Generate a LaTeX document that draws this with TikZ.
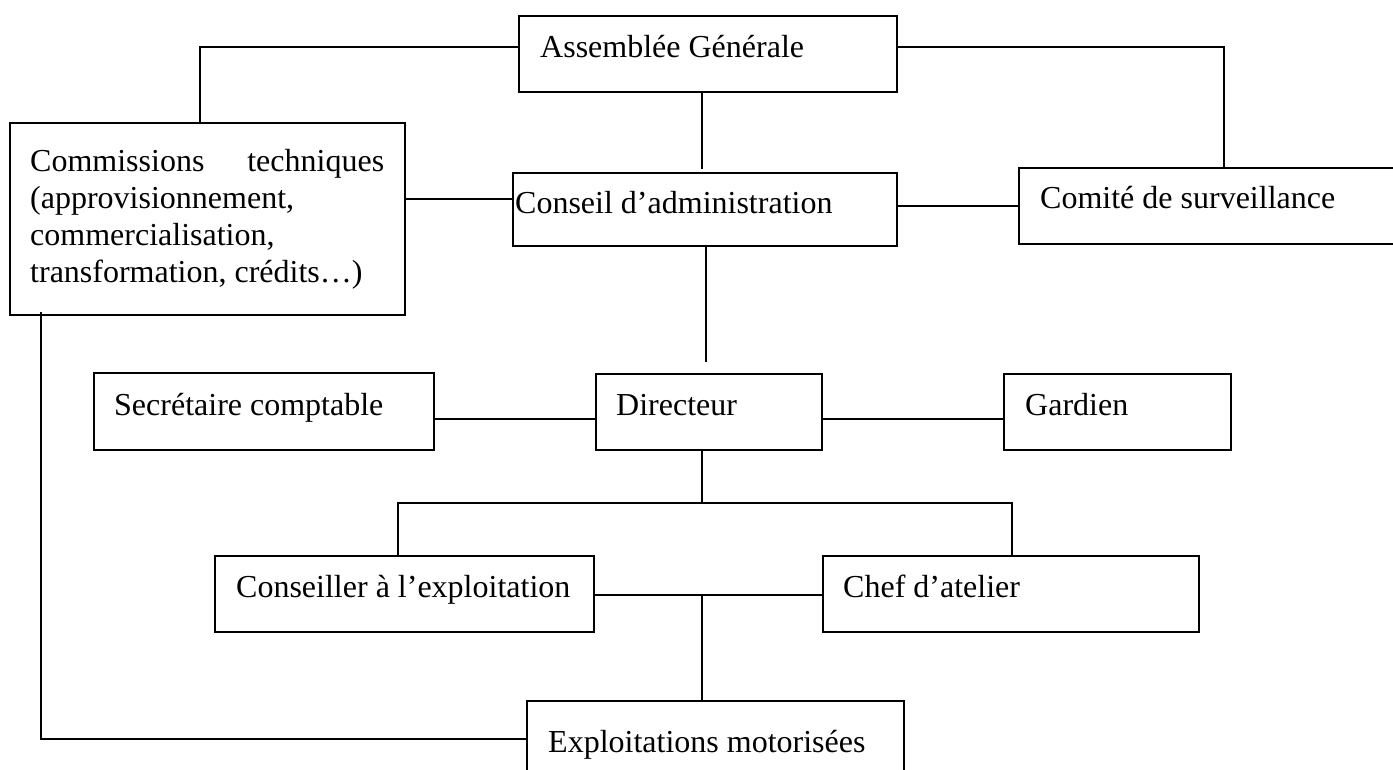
\documentclass[tikz,border=0pt]{standalone}
\usepackage{fontspec}
\setmainfont{Liberation Serif}
\usetikzlibrary{calc}
\frenchspacing
\tikzset{
  boxnode/.style={draw, line width=1.8pt, anchor=north west, inner sep=0pt, outer sep=0pt},
  lbl/.style={anchor=base west, inner sep=0pt, font=\fontsize{32}{37}\selectfont},
  conn/.style={line width=1.5pt}
}
\begin{document}
\begin{tikzpicture}[x=1pt,y=-1pt]
\path[use as bounding box, clip] (0,0) rectangle (1393,769);
\fill[white] (0,0) rectangle (1393,769);
% boxes
\node[boxnode, minimum width=378pt, minimum height=76pt] (ag) at (519,16) {};
\node[boxnode, minimum width=395pt, minimum height=192pt] (ct) at (10,123) {};
\node[boxnode, minimum width=384pt, minimum height=73pt] (ca) at (513,173) {};
\node[boxnode, minimum width=391pt, minimum height=76pt] (cs) at (1019,168) {};
\node[boxnode, minimum width=340pt, minimum height=77pt] (sc) at (94,373) {};
\node[boxnode, minimum width=226pt, minimum height=76pt] (di) at (596,374) {};
\node[boxnode, minimum width=227pt, minimum height=76pt] (ga) at (1004,374) {};
\node[boxnode, minimum width=379pt, minimum height=76pt] (ce) at (215,556) {};
\node[boxnode, minimum width=376pt, minimum height=76pt] (ch) at (823,556) {};
\node[boxnode, minimum width=377pt, minimum height=90pt] (ex) at (527,701) {};
% labels
\node[lbl] (agt) at ($(ag.north west)+(21,41)$) {Assemblée Générale};
\node[lbl, text width=354pt, align=flush left] (ctt) at ($(ct.north west)+(20,48)$) {\hbox to 354pt{Commissions\hfill techniques}\\(approvisionnement,\\commercialisation,\\transformation, crédits…)};
\node[lbl] (cat) at ($(ca.north west)+(2,40)$) {Conseil d’administration};
\node[lbl] (cst) at ($(cs.north west)+(21,40)$) {Comité de surveillance};
\node[lbl] (sct) at ($(sc.north west)+(20,42)$) {Secrétaire comptable};
\node[lbl] (dit) at ($(di.north west)+(20,41)$) {Directeur};
\node[lbl] (gat) at ($(ga.north west)+(21,41)$) {Gardien};
\node[lbl] (cet) at ($(ce.north west)+(21,41)$) {Conseiller à l’exploitation};
\node[lbl] (cht) at ($(ch.north west)+(20,41)$) {Chef d’atelier};
\node[lbl] (ext) at ($(ex.north west)+(21,51)$) {Exploitations motorisées};
% connectors
\draw[conn] ($(ag.north west)+(0,31)$) -| ($(ct.north west)+(190,0)$);
\draw[conn] ($(ag.north east)+(0,31)$) -| ($(cs.north west)+(205,0)$);
\draw[conn] ($(ag.south west)+(183,0)$) -- ++(0,77);
\coordinate (c1) at ($(ct.north east)+(0,76)$);
\draw[conn] (c1) -- (c1 -| ca.west);
\coordinate (c2) at ($(ca.north east)+(0,33)$);
\draw[conn] (c2) -- (c2 -| cs.west);
\draw[conn] ($(ca.south west)+(193,0)$) -- ++(0,116);
\coordinate (c3) at ($(sc.north east)+(0,46)$);
\draw[conn] (c3) -- (c3 -| di.west);
\coordinate (c4) at ($(di.north east)+(0,45)$);
\draw[conn] (c4) -- (c4 -| ga.west);
\coordinate (j1) at ($(di.south west)+(106,53)$);
\draw[conn] ($(di.south west)+(106,0)$) -- (j1);
\draw[conn] ($(ce.north west)+(183,0)$) |- (j1) -| ($(ch.north west)+(189,0)$);
\coordinate (c5) at ($(ce.north east)+(0,39)$);
\draw[conn] (c5) -- (c5 -| ch.west);
\coordinate (j2) at ($(c5)+(108,0)$);
\draw[conn] (j2) -- (j2 |- ex.north);
\draw[conn] ($(ct.south west)+(31,-3)$) |- ($(ex.north west)+(0,38)$);
\end{tikzpicture}
\end{document}
